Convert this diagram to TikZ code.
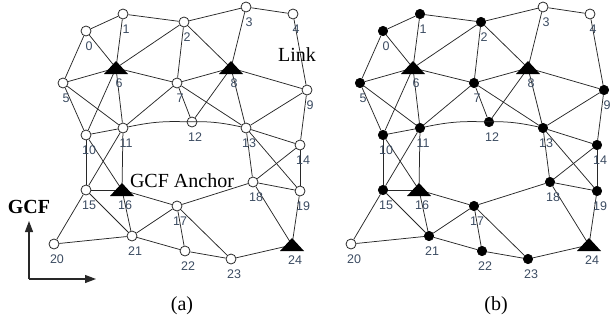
\documentclass[tikz,border=0pt]{standalone}
\usepackage{fontspec}
\setmainfont{Liberation Serif}
\newfontfamily\labfont{Liberation Sans}
\usetikzlibrary{arrows.meta}
\definecolor{labc}{RGB}{60,76,98}
\definecolor{edgec}{RGB}{40,40,40}
\tikzset{
  edge/.style={draw=edgec, line width=0.75pt},
  vopen/.style={circle, draw=edgec, fill=white, line width=0.8pt, minimum size=10pt, inner sep=0pt},
  vfull/.style={circle, draw=black, fill=black, line width=0.6pt, minimum size=9.5pt, inner sep=0pt},
  vanch/.style={circle, inner sep=0pt, minimum size=1pt},
  lab/.style={font=\labfont\fontsize{12.5}{14}\selectfont, text=labc, inner sep=0pt},
  serif/.style={font=\fontsize{20}{22}\selectfont, inner sep=0pt},
  axis/.style={draw=edgec, line width=1.2pt, -{Triangle[length=11pt,width=8pt]}},
  anctri/.pic={\fill[black] (0,-7) -- (12,6) -- (-12,6) -- cycle;}
}
\def\circAll{0/86/31,1/123/14,2/184/22,3/246/7,4/293/14,5/63/83,7/177/83,9/307/90,10/86/135,11/123/128,12/192/122,13/246/128,14/300/145,15/86/190,17/177/206,18/253/182,19/300/191,20/54/244,21/132/236,22/185/251,23/231/259}
\def\circFull{0/86/31,1/123/14,2/184/22,5/63/83,7/177/83,9/307/90,10/86/135,11/123/128,12/192/122,13/246/128,14/300/145,15/86/190,17/177/206,18/253/182,19/300/191,21/132/236,22/185/251,23/231/259}
\def\circOpenB{3/246/7,4/293/14,20/54/244}
\def\triList{6/116/68,8/231/68,16/122/190,24/292/245}
\def\edgeList{0/1,1/2,2/3,3/4,0/5,0/6,1/6,2/6,5/6,6/7,2/7,2/8,3/8,7/8,8/9,4/9,5/10,5/11,6/10,6/11,7/11,7/12,7/13,8/12,8/13,9/13,9/14,10/11,10/15,10/16,11/15,11/16,13/14,13/18,13/19,14/18,14/19,15/16,15/20,15/21,16/21,16/17,17/18,18/19,18/24,19/24,17/21,17/22,17/23,20/21,21/22,22/23,23/24}
\newcommand\mypanelrest[1]{%
  \foreach \i/\x/\y in \triList {\node[vanch] (#1\i) at (\x,\y) {};}
  \foreach \u/\v in \edgeList {\draw[edge] (#1\u) -- (#1\v);}
  \draw[edge] (#111) to[bend left=7] (#112) to[bend left=7] (#113);
  \foreach \i/\x/\y in \triList {\pic at (#1\i) {anctri};}
  \foreach \i/\x/\y in \circAll {\node[lab] (#1l\i) at (\x+3,\y+15) {\i};}
  \foreach \i/\x/\y in \triList {\node[lab] (#1l\i) at (\x+3,\y+15) {\i};}
}
\begin{document}
\begin{tikzpicture}[x=1pt,y=-1pt]
\useasboundingbox (0,0) rectangle (612,324);
% panel (a)
\begin{scope}
  \foreach \i/\x/\y in \circAll {\node[vopen] (a\i) at (\x,\y) {};}
  \mypanelrest{a}
  \node[serif] (link) at (297,55) {Link};
  \node[serif] (anchor) at (182,181) {GCF Anchor};
  \node[serif, font=\bfseries\fontsize{20}{22}\selectfont] (gcf) at (29,207) {GCF};
  \coordinate (corner) at (29,279);
  \coordinate (ytip) at (29,221);
  \coordinate (xtip) at (96,279);
  \draw[axis] (corner) -- (ytip);
  \draw[axis] (corner) -- (xtip);
  \node[serif] (capa) at (182,306) {(a)};
\end{scope}
% panel (b)
\begin{scope}[xshift=297pt]
  \foreach \i/\x/\y in \circFull {\node[vfull] (b\i) at (\x,\y) {};}
  \foreach \i/\x/\y in \circOpenB {\node[vopen] (b\i) at (\x,\y) {};}
  \mypanelrest{b}
\end{scope}
\node[serif] (capb) at (496,306) {(b)};
\end{tikzpicture}
\end{document}
